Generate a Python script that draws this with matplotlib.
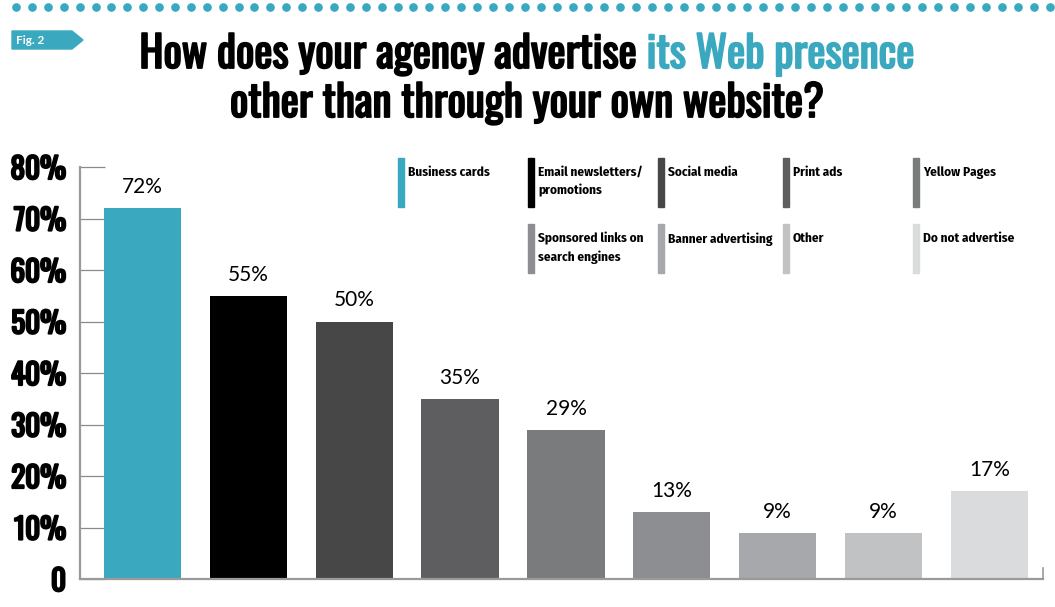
import numpy as np
import matplotlib
matplotlib.use("Agg")
import matplotlib.pyplot as plt
import matplotlib.patheffects as pe
from matplotlib.patches import Polygon, Rectangle
from matplotlib.lines import Line2D

# chart data
categories = ["Business cards", "Email newsletters/\npromotions", "Social media",
              "Print ads", "Yellow Pages", "Sponsored links on\nsearch engines",
              "Banner advertising", "Other", "Do not advertise"]
values = [72, 55, 50, 35, 29, 13, 9, 9, 17]
colors = ["#3AA8BF", "#000000", "#474748", "#5E5E60", "#7A7B7D",
          "#8D8E91", "#A7A8AB", "#C1C2C4", "#DADBDD"]
y_ticks = [0, 10, 20, 30, 40, 50, 60, 70, 80]
y_tick_labels = ["0", "10%", "20%", "30%", "40%", "50%", "60%", "70%", "80%"]

TEAL = "#3AA8BF"
GRID_GRAY = "#8A8A8A"
TITLE_FONT = ["Oswald", "DejaVu Sans"]
LEGEND_FONT = ["Fira Sans Condensed", "DejaVu Sans"]
W, H = 1055, 607


def fx(px):
    return px / W


def fy(py):
    return 1 - py / H


def heavy(width, color="black"):
    # thicken the Oswald strokes a bit
    return [pe.withStroke(linewidth=width, foreground=color)]


fig = plt.figure(figsize=(W / 100, H / 100), dpi=100)

# main axes
ax = fig.add_axes([fx(80), 28 / H, (1043 - 80) / W, (579 - 167) / H])
x = np.arange(len(values))
bars = ax.bar(x, values, width=0.73, color=colors, zorder=2)
ax.set_xlim(-0.59, 8.506)
ax.set_ylim(0, 80)
ax.set_xticks([])
ax.set_yticks(y_ticks)
ax.set_yticklabels(y_tick_labels, family=TITLE_FONT, fontsize=21)
for lbl in ax.get_yticklabels():
    lbl.set_path_effects(heavy(1.6))
ax.tick_params(axis="y", direction="in", length=18, width=0.9,
               color=GRID_GRAY, pad=10)
for side in ["top", "right"]:
    ax.spines[side].set_visible(False)
for side in ["left", "bottom"]:
    ax.spines[side].set_color("#9A9A9A")
    ax.spines[side].set_linewidth(1.6)
ax.plot([1, 1], [0, 0.027], transform=ax.transAxes, color="#9A9A9A",
        linewidth=1.2, clip_on=False)

ax.bar_label(bars, labels=[f"{v}%" for v in values], padding=8,
             fontsize=15, family="Lato")

# legend as colored strips
legend_cols = [398, 528, 658, 783, 913]
legend_rows = [158, 224]
legend_slots = [(0, 0), (1, 0), (2, 0), (3, 0), (4, 0),
                (1, 1), (2, 1), (3, 1), (4, 1)]
for (c, r), label, col in zip(legend_slots, categories, colors):
    lx, ly = legend_cols[c], legend_rows[r]
    fig.add_artist(Rectangle((fx(lx), fy(ly + 49)), 6 / W, 49 / H,
                             transform=fig.transFigure, color=col))
    fig.text(fx(lx + 10), fy(ly + 8), label, family=LEGEND_FONT, fontweight="bold",
             fontsize=9.5, va="top", ha="left", linespacing=1.55)

# dotted line along the top
dot_x = np.arange(16, 1052, 15.9)
fig.add_artist(Line2D(dot_x / W, np.full(len(dot_x), fy(7)), linestyle="none",
                      marker="o", markersize=5.2, color=TEAL,
                      transform=fig.transFigure))

# Fig. 2 tag
tag = [(12, 31), (72, 31), (83, 40), (72, 49), (12, 49)]
fig.add_artist(Polygon([(fx(a), fy(b)) for a, b in tag], closed=True,
                       color=TEAL, transform=fig.transFigure))
fig.text(fx(16), fy(40.5), "Fig. 2", color="white", fontsize=8.5,
         fontweight="bold", family="Lato", va="center", ha="left")

# title with highlighted part
title_size = 31
renderer = fig.canvas.get_renderer()
line1 = [("How does your agency advertise ", "black"), ("its Web presence", TEAL)]
line2 = [("other than through your own website?", "black")]
for parts, base in [(line1, 68), (line2, 117)]:
    texts = [fig.text(0, fy(base), s, color=c, family=TITLE_FONT,
                      fontsize=title_size, va="baseline", ha="left",
                      path_effects=heavy(1.3, c))
             for s, c in parts]
    widths = [t.get_window_extent(renderer).width for t in texts]
    start = 527 - sum(widths) / 2
    for t, w in zip(texts, widths):
        t.set_x(fx(start))
        start += w

fig.savefig("out.png", dpi=100)
